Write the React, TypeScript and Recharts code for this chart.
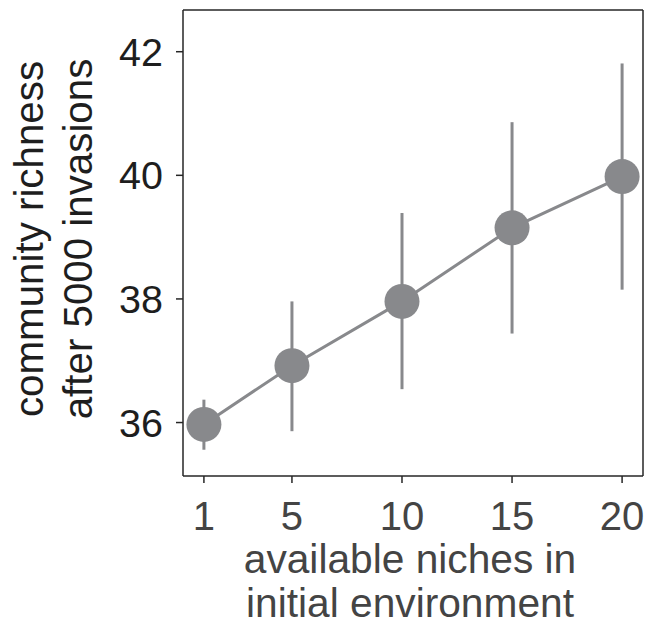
import { LineChart, Line, XAxis, YAxis, ErrorBar, ReferenceLine } from 'recharts'

const niches = [1, 5, 10, 15, 20]
const richness = [35.97, 36.92, 37.96, 39.15, 39.98]
const lower = [35.56, 35.86, 36.54, 37.44, 38.15]
const upper = [36.37, 37.96, 39.39, 40.86, 41.81]
const yTicks = [36, 38, 40, 42]

const data = niches.map((n, i) => ({
  n,
  richness: richness[i],
  err: [richness[i] - lower[i], upper[i] - richness[i]],
}))

const FONT = '"Liberation Sans", Arial, Helvetica, sans-serif'
const GREY = '#88898c'
const FRAME = '#262626'
const xDomain = [0.05, 20.95]
const yDomain = [35.135, 42.675]

function XLabel(props: any) {
  const vb = props.viewBox || { x: 183, y: 476, width: 460 }
  const cx = vb.x + vb.width / 2 - 3
  return (
    <g fontFamily={FONT} fontSize={40.7} fill="#444">
      <text x={cx} y={vb.y + 97} textAnchor="middle">available niches in</text>
      <text x={cx} y={vb.y + 141} textAnchor="middle">initial environment</text>
    </g>
  )
}

function YLabel(props: any) {
  const vb = props.viewBox || { x: 0, y: 10, height: 466 }
  const cy = vb.y + vb.height / 2 - 4
  return (
    <g fontFamily={FONT} fontSize={40.3} fill="#1e1e1e">
      <text x={vb.x + 43} y={cy} textAnchor="middle" transform={`rotate(-90 ${vb.x + 43} ${cy})`}>
        community richness
      </text>
      <text x={vb.x + 92} y={cy} textAnchor="middle" transform={`rotate(-90 ${vb.x + 92} ${cy})`}>
        after 5000 invasions
      </text>
    </g>
  )
}

export default function App() {
  return (
    <div style={{ position: 'absolute', left: 0, top: 0, background: '#fff' }}>
      <LineChart width={655} height={627} data={data} margin={{ top: 10, right: 12, left: 0, bottom: 0 }}>
        <XAxis
          dataKey="n"
          type="number"
          domain={xDomain}
          ticks={niches}
          interval={0}
          allowDataOverflow
          height={151}
          tickSize={7}
          tickMargin={19}
          axisLine={{ stroke: FRAME, strokeWidth: 1.5 }}
          tickLine={{ stroke: FRAME, strokeWidth: 1.5 }}
          tick={{ fontSize: 40, fill: '#444', fontFamily: FONT }}
          label={<XLabel />}
        />
        <YAxis
          type="number"
          domain={yDomain}
          ticks={yTicks}
          interval={0}
          allowDataOverflow
          width={183}
          tickSize={7}
          tickMargin={13}
          axisLine={{ stroke: FRAME, strokeWidth: 1.5 }}
          tickLine={{ stroke: FRAME, strokeWidth: 1.5 }}
          tick={{ fontSize: 39.5, fill: '#1e1e1e', fontFamily: FONT }}
          label={<YLabel />}
        />
        {/* top and right edges of the frame */}
        <ReferenceLine y={yDomain[1]} stroke={FRAME} strokeWidth={1.5} />
        <ReferenceLine x={xDomain[1]} stroke={FRAME} strokeWidth={1.5} />
        <Line
          dataKey="richness"
          stroke={GREY}
          strokeWidth={3}
          dot={{ r: 17.5, fill: GREY, stroke: 'none' }}
          isAnimationActive={false}
        >
          <ErrorBar dataKey="err" direction="y" width={0} stroke={GREY} strokeWidth={3} />
        </Line>
      </LineChart>
    </div>
  )
}
